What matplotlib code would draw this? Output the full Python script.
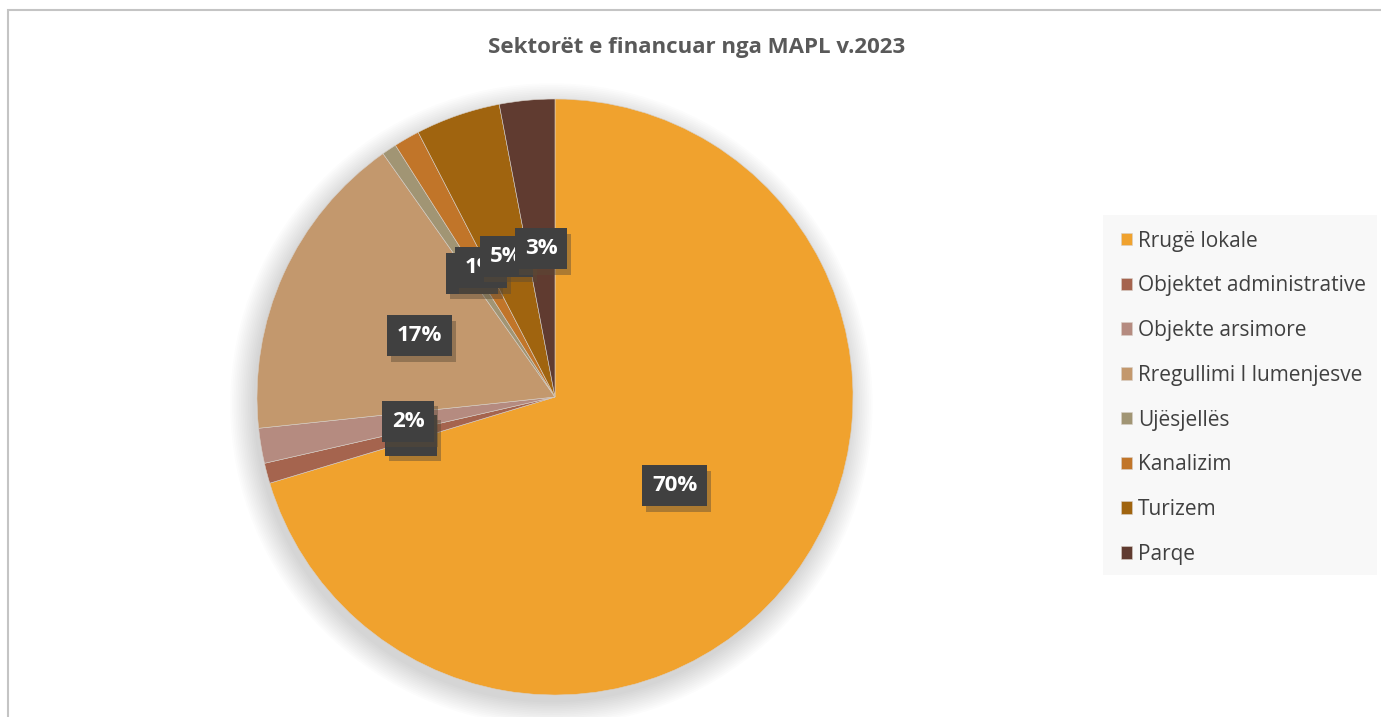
# Sektorët e financuar nga MAPL v.2023 - pie chart
import math
import matplotlib
matplotlib.use("Agg")
import matplotlib.pyplot as plt
import matplotlib.patheffects as pe
from matplotlib.patches import Circle, Rectangle

# ------------------------------------------------------------
# Data (shares, in %)
# ------------------------------------------------------------
sectors = [
    "Rrugë lokale",
    "Objektet administrative",
    "Objekte arsimore",
    "Rregullimi I lumenjesve",
    "Ujësjellës",
    "Kanalizim",
    "Turizem",
    "Parqe",
]
shares = [70.4, 1.1, 1.9, 16.9, 0.8, 1.4, 4.6, 3.0]
colors = ["#F0A22E", "#A5644E", "#B58B80", "#C3986D",
          "#A19574", "#C17529", "#A0640F", "#603B30"]
title = "Sektorët e financuar nga MAPL v.2023"

W, H = 1381, 717
fig = plt.figure(figsize=(W / 100, H / 100), dpi=100)
fig.patch.set_facecolor("white")

# outer frame of the chart (cut by the image edges)
fig.patches.append(Rectangle((8 / W, -0.05), 1.2, (H - 10) / H + 0.05,
                             transform=fig.transFigure, fill=False,
                             edgecolor="#c4c4c4", linewidth=1.5))

fig.text(697 / W, 1 - 47 / H, title, ha="center", va="center",
         fontsize=16, fontweight="bold", color="#595959", family="Open Sans")

# pie axes: centre (555, 397) px, radius ~298 px
cx, cy, R = 555, 397, 298
half = 340
ax = fig.add_axes([(cx - half) / W, (H - cy - half) / H, 2 * half / W, 2 * half / H])

# soft shadow behind the pie
for k in range(14):
    ax.add_patch(Circle((-0.012, -0.025), 1.0 + 0.006 * k, color="black",
                        alpha=0.012, lw=0, zorder=0))

wedges, texts = ax.pie(shares, colors=colors, startangle=90, counterclock=False,
                       radius=1.0, wedgeprops=dict(linewidth=0.4, edgecolor="#d8d0c8"))
for w in wedges:
    w.set_zorder(1)

# pie() resets the limits, so fix the scale afterwards
ax.set_xlim(-half / R, half / R)
ax.set_ylim(-half / R, half / R)
ax.set_aspect("equal")
ax.axis("off")

# data labels (rounded percent), inside at half radius
ang = 90.0
total = sum(shares)
for s in shares:
    mid = math.radians(ang - s / total * 180.0)
    ang -= s / total * 360.0
    t = ax.text(0.5 * math.cos(mid), 0.5 * math.sin(mid), f"{round(s)}%",
                ha="center", va="center", fontsize=16, fontweight="bold",
                color="white", family="Open Sans", zorder=5,
                bbox=dict(boxstyle="square,pad=0.45", facecolor="#404040",
                          edgecolor="none"))
    t.get_bbox_patch().set_path_effects(
        [pe.withSimplePatchShadow(offset=(3, -4), shadow_rgbFace="#5a4a35", alpha=0.45),
         pe.Normal()])

# legend
fig.patches.append(Rectangle((1103 / W, 1 - 575 / H), 274 / W, 360 / H,
                             transform=fig.transFigure, facecolor="#f8f8f8",
                             edgecolor="none", zorder=0))
leg = fig.legend(wedges, sectors, loc="upper left",
                 bbox_to_anchor=(1106 / W, 1 - 216 / H), frameon=False,
                 prop={"family": "Open Sans", "size": 15},
                 handlelength=0.55, handleheight=0.55, handletextpad=0.3,
                 labelspacing=1.14, borderpad=0.2)
for txt in leg.get_texts():
    txt.set_color("#404040")

fig.savefig("out.png", dpi=100)
